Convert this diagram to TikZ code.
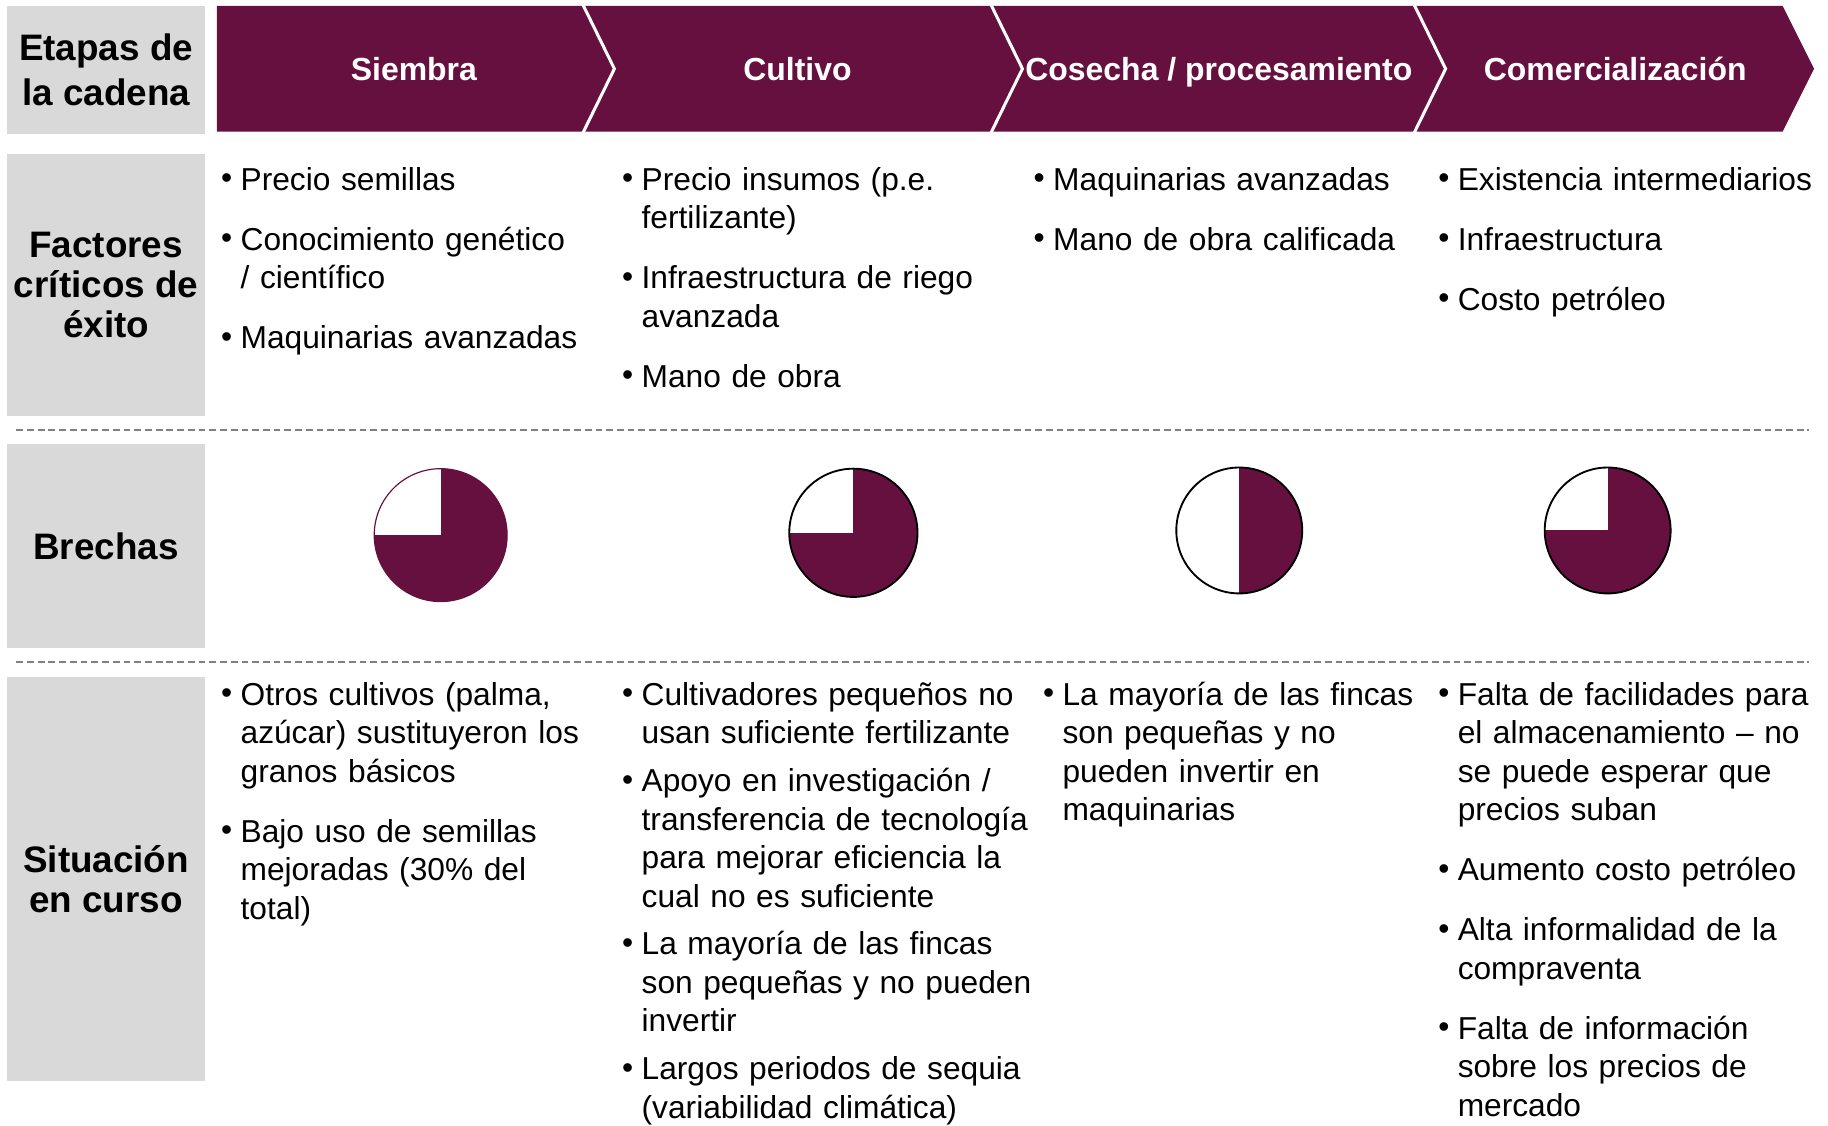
\documentclass[tikz,border=0pt]{standalone}
\usepackage{fontspec}
\setmainfont{Liberation Sans}
\definecolor{maroon}{RGB}{102,16,63}
\definecolor{lgray}{RGB}{217,217,217}
\definecolor{dgray}{RGB}{128,128,128}
\newcommand\bul{\leavevmode\llap{\raisebox{0.6pt}{\textbullet}\hspace{3.6pt}}\ignorespaces}
\newcommand\nxt[1][9.25pt]{\par\vspace{#1}\bul}
\begin{document}
\begin{tikzpicture}[x=0.5pt,y=-0.5pt,
  lbox/.style={fill=lgray, inner sep=0, minimum width=85pt, align=center,
    font=\fontsize{15.8pt}{17pt}\selectfont\bfseries},
  hdr/.style={text=white, anchor=base, inner sep=0,
    font=\fontsize{13.7pt}{16pt}\selectfont\bfseries},
  body/.style={anchor=base west, inner sep=0, text width=200pt, align=left,
    font=\fontsize{13.6pt}{16.5pt}\selectfont},
  chev/.style={fill=maroon},
  chevsep/.style={draw=white, line width=1.3pt},
  sepline/.style={draw=dgray, line width=0.8pt, dash pattern=on 2.9pt off 1.7pt},
  pieout/.style={draw=black, line width=0.8pt}
]
\useasboundingbox (0,0) rectangle (1568,965);

% left label boxes
\node[lbox, minimum height=55pt, font=\fontsize{15.8pt}{19.5pt}\selectfont\bfseries] (etapas) at (91,60) {Etapas de\\la cadena};
\node[lbox, minimum height=112.5pt] (factores) at (91,244.5) {Factores\\críticos de\\éxito};
\node[lbox, minimum height=87.5pt] (brechas) at (91,468.5) {Brechas};
\node[lbox, minimum height=173pt] (situacion) at (91,754) {Situación\\en curso};

% chevrons
\fill[chev] (186,5) -- (500,5) -- (527,59) -- (500,113) -- (186,113) -- cycle;
\fill[chev] (500,5) -- (850,5) -- (877,59) -- (850,113) -- (500,113) -- (527,59) -- cycle;
\fill[chev] (850,5) -- (1213,5) -- (1240,59) -- (1213,113) -- (850,113) -- (877,59) -- cycle;
\fill[chev] (1213,5) -- (1529,5) -- (1556,59) -- (1529,113) -- (1213,113) -- (1240,59) -- cycle;
\draw[chevsep] (500,4) -- (527,59) -- (500,114);
\draw[chevsep] (850,4) -- (877,59) -- (850,114);
\draw[chevsep] (1213,4) -- (1240,59) -- (1213,114);

\node[hdr] (h1) at (355,69) {Siembra};
\node[hdr] (h2) at (684,69) {Cultivo};
\node[hdr] (h3) at (1045.5,69) {Cosecha / procesamiento};
\node[hdr] (h4) at (1385.5,69) {Comercialización};

% factores criticos
\node[body] (f1) at (206,163) {\bul Precio semillas\nxt Conocimiento genético\\/ científico\nxt Maquinarias avanzadas};
\node[body] (f2) at (550,163) {\bul Precio insumos (p.e.\\fertilizante)\nxt Infraestructura de riego\\avanzada\nxt Mano de obra};
\node[body] (f3) at (903,163) {\bul Maquinarias avanzadas\nxt Mano de obra calificada};
\node[body] (f4) at (1250,163) {\bul Existencia intermediarios\nxt Infraestructura\nxt Costo petróleo};

% dashed separators
\draw[sepline] (14,369) -- (1552,369);
\draw[sepline] (14,568) -- (1552,568);

% pies
\coordinate (g1) at (378,459);
\coordinate (g2) at (732,457);
\coordinate (g3) at (1063,455);
\coordinate (g4) at (1379,455);
\fill[maroon] (g1) circle (57);
\begin{scope}
  \clip (g1) circle (57);
  \fill[white] (g1) ++(-60,-60) rectangle ++(60,60);
\end{scope}
\draw[maroon, line width=0.5pt] (g1) circle (57);

\fill[maroon] (g2) circle (55);
\begin{scope}
  \clip (g2) circle (55);
  \fill[white] (g2) ++(-60,-60) rectangle ++(60,60);
\end{scope}
\draw[pieout] (g2) circle (55);

\fill[maroon] (g3) circle (54);
\begin{scope}
  \clip (g3) circle (54);
  \fill[white] (g3) ++(-60,-60) rectangle ++(60,120);
\end{scope}
\draw[pieout] (g3) circle (54);

\fill[maroon] (g4) circle (54);
\begin{scope}
  \clip (g4) circle (54);
  \fill[white] (g4) ++(-60,-60) rectangle ++(60,60);
\end{scope}
\draw[pieout] (g4) circle (54);

% situacion en curso
\node[body] (s1) at (206,605) {\bul Otros cultivos (palma,\\azúcar) sustituyeron los\\granos básicos\nxt Bajo uso de semillas\\mejoradas (30\% del\\total)};
\node[body] (s2) at (550,605) {\bul Cultivadores pequeños no\\usan suficiente fertilizante\nxt[4pt]Apoyo en investigación /\\transferencia de tecnología\\para mejorar eficiencia la\\cual no es suficiente\nxt[4pt]La mayoría de las fincas\\son pequeñas y no pueden\\invertir\nxt[4pt]Largos periodos de sequia\\(variabilidad climática)};
\node[body] (s3) at (911,605) {\bul La mayoría de las fincas\\son pequeñas y no\\pueden invertir en\\maquinarias};
\node[body] (s4) at (1250,605) {\bul Falta de facilidades para\\el almacenamiento – no\\se puede esperar que\\precios suban\nxt Aumento costo petróleo\nxt Alta informalidad de la\\compraventa\nxt Falta de información\\sobre los precios de\\mercado};
\end{tikzpicture}
\end{document}
